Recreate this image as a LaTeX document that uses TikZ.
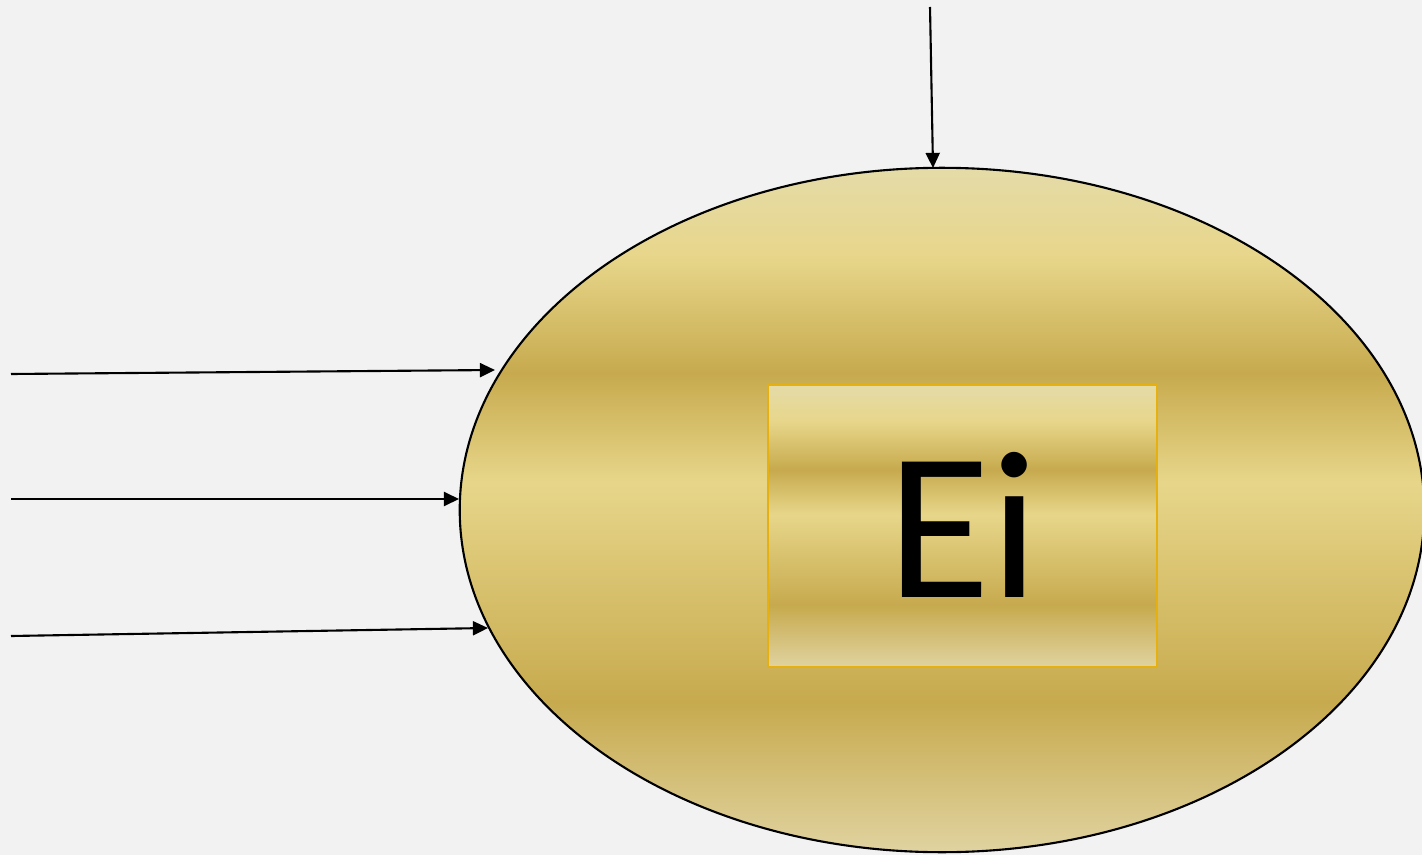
\documentclass[tikz,border=0pt]{standalone}
\usepackage{fontspec}
\setmainfont{Carlito}
\usetikzlibrary{arrows.meta,shapes.geometric}
\definecolor{bg}{HTML}{F2F2F2}
\definecolor{gA}{HTML}{E5DBA8}
\definecolor{gB}{HTML}{E7D68A}
\definecolor{gC}{HTML}{C7AA4E}
\definecolor{gD}{HTML}{E0D3A0}
\definecolor{rectline}{HTML}{E6B010}
\pgfdeclareverticalshading{gold}{100bp}{%
  color(0bp)=(gD); color(25bp)=(gD); color(36bp)=(gC); color(52bp)=(gB);
  color(60bp)=(gC); color(68.5bp)=(gB); color(75bp)=(gA); color(100bp)=(gA)}
\tikzset{
  goldellipse/.style={ellipse, draw=black, line width=0.6pt, inner sep=0pt,
    minimum width=9.64cm, minimum height=6.84cm, shading=gold},
  goldrect/.style={rectangle, draw=rectline, line width=0.6pt, inner sep=0pt,
    minimum width=3.89cm, minimum height=2.82cm, shading=gold},
  arr/.style={draw=black, line width=0.6pt, -{Triangle[length=4.3pt,width=4pt]}},
  bigtext/.style={font=\fontsize{60}{72}\selectfont, inner sep=0pt, anchor=base}
}
\begin{document}
\begin{tikzpicture}[x=0.01cm, y=-0.01cm]
  \fill[bg] (0,0) rectangle (1422,855);
  \useasboundingbox (0,0) rectangle (1422,855);
  \node[goldellipse] (E) at (942,510) {};
  \node[goldrect] (R) at (962.5,526) {};
  \node[bigtext] (T) at (963,597) {Ei};
  \coordinate (s0) at (930,7);
  \coordinate (t0) at (933,168);
  \coordinate (s1) at (11,374);
  \coordinate (t1) at (495,370);
  \coordinate (s2) at (11,499);
  \coordinate (t2) at (459,499);
  \coordinate (s3) at (11,636);
  \coordinate (t3) at (488,628);
  \draw[arr] (s0) -- (t0);
  \draw[arr] (s1) -- (t1);
  \draw[arr] (s2) -- (t2);
  \draw[arr] (s3) -- (t3);
\end{tikzpicture}
\end{document}
